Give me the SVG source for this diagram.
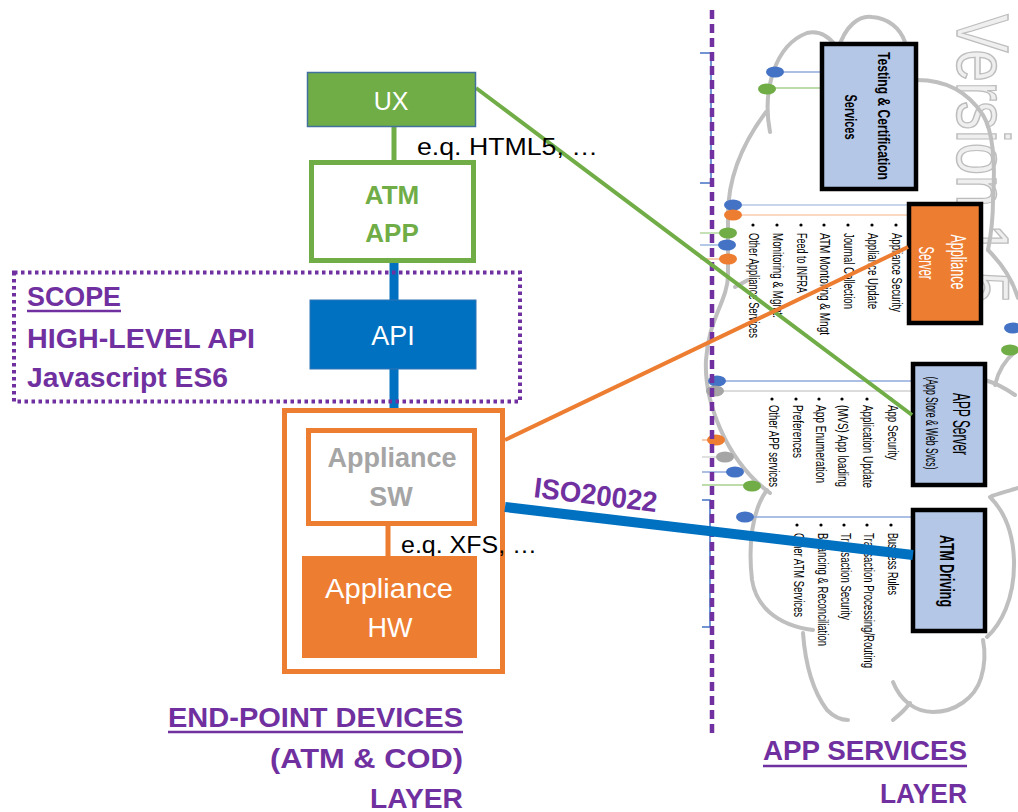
<svg xmlns="http://www.w3.org/2000/svg" width="1018" height="812" viewBox="0 0 1018 812">
<style>
text { font-family: "Liberation Sans", Arial, sans-serif; }
.pl { fill:#7030A0; font-weight:bold; font-size:28.5px; }
.cloud { fill:none; stroke:#BFBFBF; stroke-width:4; stroke-linecap:round; }
.thin { stroke-width:1.3; fill:none; }
.lst { font-size:14px; fill:#000; }
.svc { stroke:#000; stroke-width:4.5; }
.dot { fill:#000; }
</style>
<defs>
  <ellipse id="e" rx="9" ry="5.5"/>
</defs>
<rect width="1018" height="812" fill="#fff"/>

<!-- watermark -->
<text transform="translate(957,14) rotate(90)" font-size="74" fill="#EFEFEF" stroke="#BDBDBD" stroke-width="1.5" textLength="290" lengthAdjust="spacingAndGlyphs">Version 1.5</text>

<!-- cloud outline -->
<g id="cloud">
  <path class="cloud" d="M766,112 C745,140 728,175 728,215 L728,275 C728,300 708,320 706,360 C704,400 725,460 770,493"/>
  <path class="cloud" d="M735,287 L748,280"/>
  <path class="cloud" d="M770,132 C762,90 775,45 807,33 C820,30 830,38 836,46"/>
  <path class="cloud" d="M838,50 C845,25 860,15 872,17 C888,18 900,28 905,42"/>
  <path class="cloud" d="M917,80 C945,80 968,92 983,115 C995,135 995,170 993,200 C993,222 990,240 988,250"/>
  <path class="cloud" d="M988,250 C1000,262 1012,278 1018,298"/>
  <path class="cloud" d="M1015,352 C1005,360 998,372 995,385"/>
  <path class="cloud" d="M985,380 C995,383 1005,388 1015,395"/>
  <path class="cloud" d="M992,496 C1003,492 1012,490 1018,488"/>
  <path class="cloud" d="M990,497 C1005,512 1013,532 1014,560 C1015,600 1000,625 987,637"/>
  <path class="cloud" d="M767,490 C752,510 748,545 752,580 C756,605 775,625 813,630"/>
  <path class="cloud" d="M803,633 C805,660 812,690 827,710 C835,718 842,720 848,720"/>
  <path class="cloud" d="M893,682 C900,700 915,712 933,712 C955,712 975,698 981,678 C985,665 985,650 983,640"/>
  <path class="cloud" d="M910,703 C905,710 898,716 893,720"/>
</g>

<!-- thin service links and ellipses -->
<g id="links">
  <line class="thin" x1="775" y1="72" x2="820" y2="72" stroke="#8FAADC"/>
  <line class="thin" x1="767" y1="88" x2="820" y2="88" stroke="#A9D18E"/>
  <line class="thin" x1="733" y1="205" x2="907" y2="205" stroke="#B4C7E7"/>
  <line class="thin" x1="733" y1="215" x2="907" y2="215" stroke="#F8CBAD"/>
  <line class="thin" x1="700" y1="233" x2="728" y2="233" stroke="#A9D18E"/>
  <line class="thin" x1="700" y1="245" x2="727" y2="245" stroke="#8FAADC"/>
  <line class="thin" x1="700" y1="259" x2="728" y2="259" stroke="#F4B183"/>
  <line class="thin" x1="717" y1="381" x2="911" y2="381" stroke="#8FAADC"/>
  <line class="thin" x1="715" y1="391" x2="911" y2="391" stroke="#D0D0D0"/>
  <line class="thin" x1="702" y1="440" x2="716" y2="440" stroke="#F4B183"/>
  <line class="thin" x1="702" y1="457" x2="725" y2="457" stroke="#D0D0D0"/>
  <line class="thin" x1="702" y1="472" x2="735" y2="472" stroke="#8FAADC"/>
  <line class="thin" x1="702" y1="485" x2="752" y2="485" stroke="#A9D18E"/>
  <line class="thin" x1="745" y1="517" x2="911" y2="517" stroke="#8FAADC"/>
  <use href="#e" x="775" y="72" fill="#4472C4"/>
  <use href="#e" x="767" y="89" fill="#70AD47"/>
  <use href="#e" x="733" y="205" fill="#4472C4"/>
  <use href="#e" x="733" y="215" fill="#ED7D31"/>
  <use href="#e" x="728" y="233" fill="#70AD47"/>
  <use href="#e" x="727" y="245" fill="#4472C4"/>
  <use href="#e" x="728" y="259" fill="#ED7D31"/>
  <use href="#e" x="717" y="381" fill="#4472C4"/>
  <use href="#e" x="715" y="391" fill="#A5A5A5"/>
  <use href="#e" x="716" y="440" fill="#ED7D31"/>
  <use href="#e" x="725" y="457" fill="#A5A5A5"/>
  <use href="#e" x="735" y="472" fill="#4472C4"/>
  <use href="#e" x="752" y="486" fill="#70AD47"/>
  <use href="#e" x="745" y="517" fill="#4472C4"/>
  <use href="#e" x="1013" y="328" fill="#4472C4"/>
  <use href="#e" x="1010" y="350" fill="#70AD47"/>
</g>

<!-- service bullet lists -->
<g id="appliance-list">
  <circle class="dot" cx="896" cy="225" r="1.6"/><circle class="dot" cx="872" cy="225" r="1.6"/><circle class="dot" cx="848" cy="225" r="1.6"/><circle class="dot" cx="824" cy="225" r="1.6"/><circle class="dot" cx="801" cy="225" r="1.6"/><circle class="dot" cx="777" cy="225" r="1.6"/><circle class="dot" cx="753" cy="225" r="1.6"/>
  <text class="lst" transform="translate(892,233) rotate(90)" textLength="79" lengthAdjust="spacingAndGlyphs">Appliance Security</text>
  <text class="lst" transform="translate(868,233) rotate(90)" textLength="76" lengthAdjust="spacingAndGlyphs">Appliance Update</text>
  <text class="lst" transform="translate(844,233) rotate(90)" textLength="76" lengthAdjust="spacingAndGlyphs">Journal Collection</text>
  <text class="lst" transform="translate(820,233) rotate(90)" textLength="102" lengthAdjust="spacingAndGlyphs">ATM Montoring &amp; Mngt</text>
  <text class="lst" transform="translate(797,233) rotate(90)" textLength="60" lengthAdjust="spacingAndGlyphs">Feed to INFRA</text>
  <text class="lst" transform="translate(773,233) rotate(90)" textLength="85" lengthAdjust="spacingAndGlyphs">Monitoring &amp; Mgmt.</text>
  <text class="lst" transform="translate(749,233) rotate(90)" textLength="105" lengthAdjust="spacingAndGlyphs">Other Appliance Services</text>
</g>
<g id="app-list">
  <circle class="dot" cx="891" cy="399" r="1.6"/><circle class="dot" cx="867" cy="399" r="1.6"/><circle class="dot" cx="842" cy="399" r="1.6"/><circle class="dot" cx="819" cy="399" r="1.6"/><circle class="dot" cx="796" cy="399" r="1.6"/><circle class="dot" cx="772" cy="399" r="1.6"/>
  <text class="lst" transform="translate(888,405) rotate(90)" textLength="55" lengthAdjust="spacingAndGlyphs">App Security</text>
  <text class="lst" transform="translate(863,405) rotate(90)" textLength="83" lengthAdjust="spacingAndGlyphs">Application Update</text>
  <text class="lst" transform="translate(838,405) rotate(90)" textLength="82" lengthAdjust="spacingAndGlyphs">(MVS) App loading</text>
  <text class="lst" transform="translate(816,405) rotate(90)" textLength="78" lengthAdjust="spacingAndGlyphs">App Enumeration</text>
  <text class="lst" transform="translate(793,405) rotate(90)" textLength="53" lengthAdjust="spacingAndGlyphs">Preferences</text>
  <text class="lst" transform="translate(769,405) rotate(90)" textLength="82" lengthAdjust="spacingAndGlyphs">Other APP services</text>
</g>
<g id="atm-list">
  <circle class="dot" cx="891" cy="525" r="1.6"/><circle class="dot" cx="867" cy="525" r="1.6"/><circle class="dot" cx="844" cy="525" r="1.6"/><circle class="dot" cx="821" cy="525" r="1.6"/><circle class="dot" cx="797" cy="525" r="1.6"/>
  <text class="lst" transform="translate(888,533) rotate(90)" textLength="62" lengthAdjust="spacingAndGlyphs">Business Rules</text>
  <text class="lst" transform="translate(864,533) rotate(90)" textLength="135" lengthAdjust="spacingAndGlyphs">Transaction Processing/Routing</text>
  <text class="lst" transform="translate(841,533) rotate(90)" textLength="87" lengthAdjust="spacingAndGlyphs">Transaction Security</text>
  <text class="lst" transform="translate(818,533) rotate(90)" textLength="113" lengthAdjust="spacingAndGlyphs">Balancing &amp; Reconciliation</text>
  <text class="lst" transform="translate(794,533) rotate(90)" textLength="84" lengthAdjust="spacingAndGlyphs">Other ATM Services</text>
</g>

<!-- service boxes -->
<g id="testing">
  <rect class="svc" x="822" y="44" width="94" height="145" fill="#B4C7E7"/>
  <text transform="translate(878,116) rotate(90)" font-size="17" font-weight="bold" text-anchor="middle" textLength="128" lengthAdjust="spacingAndGlyphs">Testing &amp; Certification</text>
  <text transform="translate(845,117) rotate(90)" font-size="17" font-weight="bold" text-anchor="middle" textLength="45" lengthAdjust="spacingAndGlyphs">Services</text>
</g>
<g id="appliance-server">
  <rect class="svc" x="909" y="204" width="72" height="119" fill="#ED7D31"/>
  <text transform="translate(951,262) rotate(90)" font-size="22" fill="#fff" text-anchor="middle" textLength="55" lengthAdjust="spacingAndGlyphs">Appliance</text>
  <text transform="translate(919,263) rotate(90)" font-size="22" fill="#fff" text-anchor="middle" textLength="33" lengthAdjust="spacingAndGlyphs">Server</text>
</g>
<g id="app-server">
  <rect class="svc" x="913" y="364" width="72" height="121" fill="#B4C7E7"/>
  <text transform="translate(953,424) rotate(90)" font-size="24" text-anchor="middle" textLength="62" lengthAdjust="spacingAndGlyphs">APP Server</text>
  <text transform="translate(926,423) rotate(90)" font-size="16" text-anchor="middle" textLength="93" lengthAdjust="spacingAndGlyphs">(App Store &amp; Web Svcs)</text>
</g>
<g id="atm-driving">
  <rect class="svc" x="913" y="510" width="72" height="121" fill="#B4C7E7"/>
  <text transform="translate(940,571) rotate(90)" font-size="21" font-weight="bold" text-anchor="middle" textLength="72" lengthAdjust="spacingAndGlyphs">ATM Driving</text>
</g>

<!-- brackets and layer divider -->
<g id="divider">
  <path d="M700,53 H711 V183 H700" fill="none" stroke="#4472C4" stroke-width="1.5"/>
  <path d="M702,500 H710 V627 H702" fill="none" stroke="#4472C4" stroke-width="1.5"/>
  <line x1="712" y1="10" x2="712" y2="733" stroke="#7030A0" stroke-width="4.5" stroke-dasharray="9 5"/>
</g>

<!-- end point device stack -->
<g id="appliance-outer">
  <rect x="284.5" y="410.5" width="218" height="261" fill="#fff" stroke="#ED7D31" stroke-width="5"/>
</g>

<g id="connectors">
  <line x1="394" y1="127" x2="394" y2="161" stroke="#70AD47" stroke-width="5"/>
  <line x1="394" y1="260" x2="394" y2="408" stroke="#0070C0" stroke-width="9"/>
  <line x1="388" y1="525" x2="388" y2="557" stroke="#ED7D31" stroke-width="5"/>
  <line x1="476" y1="88" x2="912" y2="415" stroke="#70AD47" stroke-width="4"/>
  <line x1="505" y1="440" x2="908" y2="247" stroke="#ED7D31" stroke-width="4"/>
  <line x1="505" y1="507" x2="913" y2="555" stroke="#0070C0" stroke-width="10"/>
  <text transform="translate(533,497) rotate(7)" class="pl" font-size="26" textLength="124" lengthAdjust="spacingAndGlyphs">ISO20022</text>
</g>

<g id="ux">
  <rect x="307.5" y="72.5" width="168" height="54" fill="#70AD47" stroke="#41719C" stroke-width="1.5"/>
  <text x="391" y="110" font-size="25" fill="#fff" text-anchor="middle">UX</text>
</g>
<text x="417" y="155" font-size="24" fill="#000" textLength="181" lengthAdjust="spacingAndGlyphs">e.q. HTML5, …</text>
<g id="atm-app">
  <rect x="311.5" y="162.5" width="162" height="98" fill="#fff" stroke="#70AD47" stroke-width="5"/>
  <text x="392" y="204" font-size="26" font-weight="bold" fill="#70AD47" text-anchor="middle">ATM</text>
  <text x="392" y="242" font-size="26" font-weight="bold" fill="#70AD47" text-anchor="middle">APP</text>
</g>
<g id="api">
  <rect x="310" y="300" width="166" height="69" fill="#0070C0" stroke="#2E75B6" stroke-width="1"/>
  <text x="393" y="345" font-size="27" fill="#fff" text-anchor="middle">API</text>
</g>
<g id="scope">
  <rect x="14" y="272.5" width="506" height="129" fill="none" stroke="#7030A0" stroke-width="4" stroke-dasharray="3.5 3.5"/>
  <text class="pl" x="27" y="306" textLength="94" lengthAdjust="spacingAndGlyphs">SCOPE</text>
  <line x1="27" y1="311" x2="121" y2="311" stroke="#7030A0" stroke-width="2.5"/>
  <text class="pl" x="27" y="348" textLength="228" lengthAdjust="spacingAndGlyphs">HIGH-LEVEL API</text>
  <text class="pl" x="27" y="387" textLength="201" lengthAdjust="spacingAndGlyphs">Javascript ES6</text>
</g>
<g id="appliance-sw">
  <rect x="308.5" y="430.5" width="166" height="93" fill="#fff" stroke="#ED7D31" stroke-width="5"/>
  <text x="392" y="467" font-size="27" font-weight="bold" fill="#A5A5A5" text-anchor="middle">Appliance</text>
  <text x="391" y="506" font-size="27" font-weight="bold" fill="#A5A5A5" text-anchor="middle">SW</text>
</g>
<text x="401" y="553" font-size="24" fill="#000" textLength="136" lengthAdjust="spacingAndGlyphs">e.q. XFS, …</text>
<g id="appliance-hw">
  <rect x="302" y="556" width="175" height="102" fill="#ED7D31"/>
  <text x="325" y="598" font-size="27" fill="#fff" textLength="128" lengthAdjust="spacingAndGlyphs">Appliance</text>
  <text x="390" y="637" font-size="27" fill="#fff" text-anchor="middle">HW</text>
</g>

<g id="labels">
  <text class="pl" x="168" y="727" textLength="295" lengthAdjust="spacingAndGlyphs">END-POINT DEVICES</text>
  <line x1="168" y1="732" x2="463" y2="732" stroke="#7030A0" stroke-width="2.5"/>
  <text class="pl" x="270" y="768" textLength="193" lengthAdjust="spacingAndGlyphs">(ATM &amp; COD)</text>
  <text class="pl" x="370" y="808" textLength="93" lengthAdjust="spacingAndGlyphs">LAYER</text>
  <text class="pl" x="763" y="760" textLength="204" lengthAdjust="spacingAndGlyphs">APP SERVICES</text>
  <line x1="763" y1="766" x2="967" y2="766" stroke="#7030A0" stroke-width="2.5"/>
  <text class="pl" x="880" y="803" textLength="87" lengthAdjust="spacingAndGlyphs">LAYER</text>
</g>
</svg>
